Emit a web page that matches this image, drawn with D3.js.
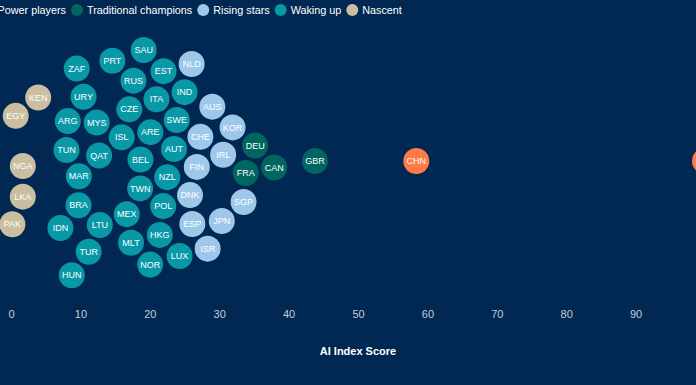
<!DOCTYPE html>
<html>
<head>
<meta charset="utf-8">
<script src="https://cdn.jsdelivr.net/npm/d3@7"></script>
<style>
  html, body { margin: 0; padding: 0; background: #012852; overflow: hidden; }
  svg { display: block; font-family: "Liberation Sans", Arial, sans-serif; }
</style>
</head>
<body>
<div id="chart"></div>
<script>
// tiers shown in the legend
var tiers = ["Power players", "Traditional champions", "Rising stars", "Waking up", "Nascent"];
var tierColors = ["#ff7a45", "#00665f", "#9dc8ea", "#0898a6", "#c9bea0"];

// countries, their AI Index score and tier (index into tiers)
var countries = ["USA", "CHN",
  "GBR", "CAN", "DEU", "FRA",
  "JPN", "KOR", "SGP", "IRL", "AUS", "ISR", "CHE", "FIN", "ESP", "NLD", "DNK",
  "AUT", "SWE", "LUX", "IND", "NZL", "POL", "EST", "HKG", "ITA", "ARE", "NOR",
  "SAU", "TWN", "BEL", "RUS", "MLT", "CZE", "ISL", "MEX", "PRT", "LTU", "QAT",
  "MYS", "TUR", "URY", "MAR", "BRA", "ZAF", "HUN", "ARG", "TUN", "IDN",
  "KEN", "LKA", "NGA", "EGY", "PAK"];
var scores = [100, 58.4,
  43.8, 37.0, 35.4, 34.1,
  30.5, 31.8, 33.4, 30.4, 29.1, 28.2, 27.1, 26.7, 26.2, 25.8, 24.9,
  23.6, 23.8, 24.2, 24.9, 22.9, 22.5, 21.9, 21.6, 21.0, 20.5, 19.9,
  19.3, 18.3, 18.0, 17.4, 17.4, 17.4, 16.3, 16.3, 14.8, 13.3, 12.7,
  12.0, 11.2, 10.4, 9.8, 9.8, 9.5, 8.9, 8.9, 8.1, 7.2,
  3.9, 1.7, 1.7, 0.7, 0.2];
var tierOf = [0, 0,
  1, 1, 1, 1,
  2, 2, 2, 2, 2, 2, 2, 2, 2, 2, 2,
  3, 3, 3, 3, 3, 3, 3, 3, 3, 3, 3,
  3, 3, 3, 3, 3, 3, 3, 3, 3, 3, 3,
  3, 3, 3, 3, 3, 3, 3, 3, 3, 3,
  4, 4, 4, 4, 4];
var tickValues = [0, 10, 20, 30, 40, 50, 60, 70, 80, 90];
var axisTitle = "AI Index Score";

var width = 696, height = 385;
var r = 13, cy = 161;

var svg = d3.select("#chart").append("svg")
    .attr("width", width)
    .attr("height", height);

svg.append("rect")
    .attr("width", width)
    .attr("height", height)
    .attr("fill", "#012852");

var x = d3.scaleLinear().domain([0, 100]).range([11, 705]);
var color = d3.scaleOrdinal().domain(tiers).range(tierColors);

var nodes = countries.map(function(c, i) {
  return { code: c, score: scores[i], tier: tiers[tierOf[i]] };
});

// beeswarm: start from d3's default spiral, moved onto the axis
var sim = d3.forceSimulation(nodes)
    .force("x", d3.forceX(function(d) { return x(d.score); }).strength(1))
    .force("y", d3.forceY(cy).strength(function(d) {
      return d.tier === tiers[0] || d.tier === tiers[1] ? 0.3 : 0.012;
    }))
    .force("collide", d3.forceCollide(r + 1.5).iterations(4))
    .stop();
nodes.forEach(function(d) { d.x += x(d.score); d.y = cy + d.y * 1.9; });
for (var i = 0; i < 300; i++) sim.tick();

// axis
var axis = svg.append("g")
    .attr("transform", "translate(0,308)")
    .call(d3.axisBottom(x).tickValues(tickValues).tickSize(0).tickPadding(0));
axis.select(".domain").remove();
axis.selectAll("text")
    .attr("dy", "0.9em")
    .style("font-size", "11px")
    .style("fill", "#c3ccd8");

svg.append("text")
    .attr("x", x(50))
    .attr("y", 355)
    .attr("text-anchor", "middle")
    .style("font-size", "11px")
    .style("font-weight", "bold")
    .style("fill", "#ffffff")
    .text(axisTitle);

// bubbles
var bubble = svg.append("g").selectAll("g")
    .data(nodes)
    .enter().append("g")
    .attr("transform", function(d) { return "translate(" + d.x + "," + d.y + ")"; });

bubble.append("circle")
    .attr("r", r)
    .attr("fill", function(d) { return color(d.tier); });

bubble.append("text")
    .attr("text-anchor", "middle")
    .attr("dy", "0.35em")
    .style("font-size", "9px")
    .style("fill", "#ffffff")
    .text(function(d) { return d.code; });

// legend
var legend = svg.append("g").attr("transform", "translate(0,10)");
var items = legend.selectAll("g")
    .data(tiers)
    .enter().append("g");
items.append("circle")
    .attr("r", 6)
    .attr("fill", function(d) { return color(d); });
items.append("text")
    .attr("x", 10)
    .attr("dy", "0.35em")
    .style("font-size", "10.8px")
    .style("fill", "#ffffff")
    .text(function(d) { return d; });

var widths = [];
items.select("text").each(function() { widths.push(this.getComputedTextLength()); });
var pos = 66 - widths[0] - 10;
items.attr("transform", function(d, i) {
  var p = pos;
  pos += 10 + widths[i] + 11;
  return "translate(" + p + ",0)";
});
</script>
</body>
</html>
